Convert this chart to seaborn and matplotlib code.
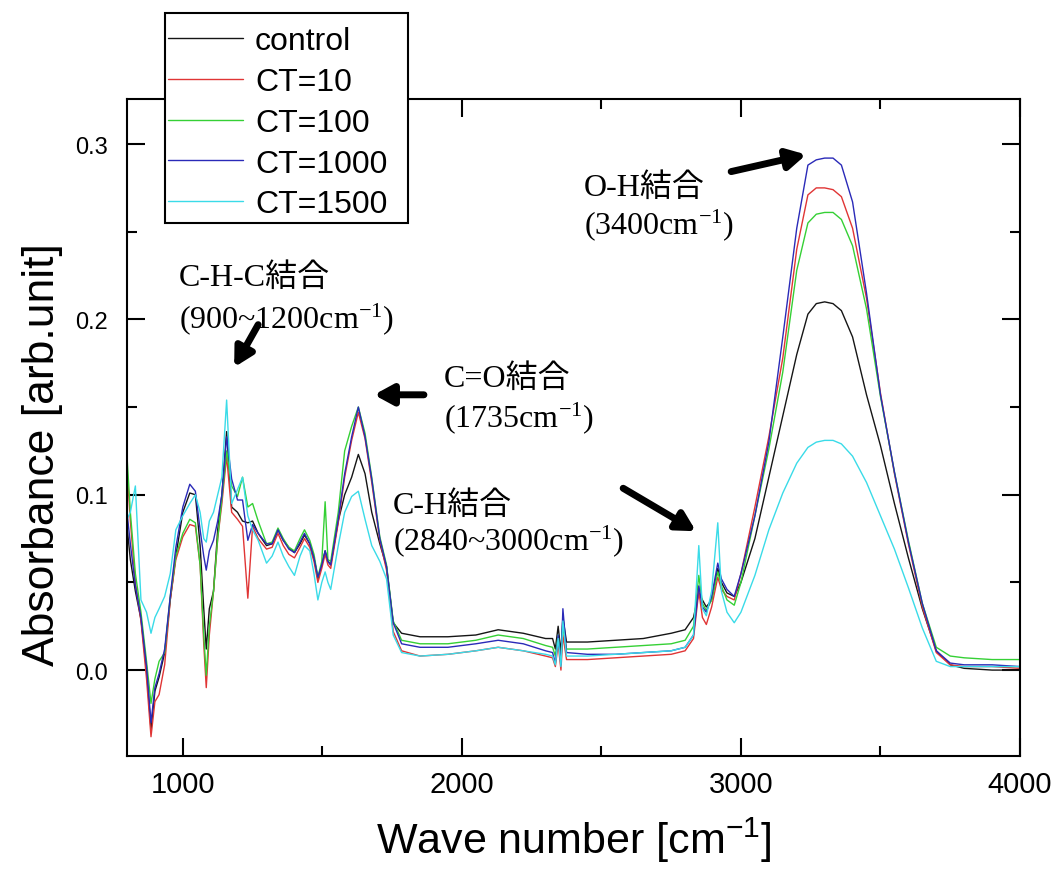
import matplotlib
matplotlib.use("Agg")
import numpy as np
import pandas as pd
import seaborn as sns
import matplotlib.pyplot as plt
from matplotlib import font_manager
from matplotlib.patches import Rectangle
from matplotlib.ticker import MultipleLocator, FixedLocator, FormatStrFormatter

# ---------------- data ----------------
wavenumber = [
    800, 812, 830, 850, 870, 886, 900, 915, 935, 955,
    975, 1000, 1025, 1045, 1062, 1075, 1084, 1095, 1110, 1125,
    1140, 1157, 1175, 1196, 1214, 1233, 1250, 1270, 1300, 1320,
    1341, 1360, 1380, 1400, 1420, 1436, 1455, 1470, 1484, 1498,
    1510, 1520, 1530, 1557, 1580, 1605, 1629, 1653, 1677, 1706,
    1730, 1754, 1784, 1850, 1950, 2050, 2130, 2220, 2300, 2325,
    2335, 2345, 2355, 2362, 2375, 2450, 2550, 2650, 2750, 2800,
    2830, 2849, 2862, 2876, 2895, 2917, 2930, 2950, 2976, 3000,
    3050, 3100, 3150, 3200, 3240, 3270, 3300, 3330, 3360, 3400,
    3450, 3500, 3550, 3600, 3650, 3700, 3750, 3800, 3900, 4000,
]

control = [
    0.082, 0.063, 0.045, 0.029, 0.000, -0.034, -0.012, -0.004, 0.010, 0.040,
    0.065, 0.090, 0.101, 0.100, 0.071, 0.035, 0.012, 0.035, 0.045, 0.080,
    0.100, 0.136, 0.093, 0.090, 0.085, 0.084, 0.085, 0.078, 0.071, 0.072,
    0.080, 0.074, 0.070, 0.067, 0.072, 0.077, 0.072, 0.064, 0.052, 0.060,
    0.068, 0.062, 0.060, 0.085, 0.100, 0.110, 0.123, 0.112, 0.090, 0.072,
    0.059, 0.027, 0.021, 0.019, 0.019, 0.020, 0.023, 0.021, 0.018, 0.018,
    0.012, 0.025, 0.010, 0.030, 0.016, 0.016, 0.017, 0.018, 0.021, 0.023,
    0.030, 0.044, 0.040, 0.036, 0.040, 0.058, 0.050, 0.044, 0.042, 0.050,
    0.075, 0.110, 0.145, 0.180, 0.203, 0.209, 0.210, 0.209, 0.205, 0.190,
    0.157, 0.128, 0.095, 0.064, 0.035, 0.011, 0.003, 0.001, 0.000, 0.000,
]

ct10 = [
    0.115, 0.085, 0.050, 0.028, -0.005, -0.038, -0.018, -0.014, 0.003, 0.040,
    0.063, 0.076, 0.083, 0.082, 0.060, 0.015, -0.010, 0.020, 0.045, 0.075,
    0.095, 0.122, 0.090, 0.086, 0.082, 0.041, 0.082, 0.075, 0.069, 0.070,
    0.078, 0.071, 0.066, 0.064, 0.070, 0.075, 0.070, 0.062, 0.050, 0.058,
    0.066, 0.060, 0.058, 0.084, 0.110, 0.131, 0.147, 0.132, 0.107, 0.074,
    0.057, 0.022, 0.011, 0.008, 0.009, 0.011, 0.013, 0.011, 0.008, 0.007,
    0.002, 0.015, 0.000, 0.020, 0.006, 0.006, 0.007, 0.008, 0.009, 0.011,
    0.018, 0.045, 0.030, 0.026, 0.036, 0.053, 0.046, 0.042, 0.040, 0.055,
    0.093, 0.133, 0.178, 0.240, 0.271, 0.275, 0.275, 0.274, 0.270, 0.252,
    0.212, 0.158, 0.112, 0.072, 0.036, 0.010, 0.003, 0.002, 0.002, 0.001,
]

ct100 = [
    0.122, 0.090, 0.055, 0.033, 0.005, -0.019, -0.005, 0.005, 0.010, 0.042,
    0.065, 0.078, 0.086, 0.084, 0.060, 0.020, -0.003, 0.025, 0.045, 0.075,
    0.098, 0.125, 0.105, 0.099, 0.110, 0.093, 0.095, 0.085, 0.072, 0.073,
    0.081, 0.075, 0.070, 0.068, 0.075, 0.080, 0.074, 0.066, 0.053, 0.062,
    0.096, 0.063, 0.062, 0.090, 0.125, 0.139, 0.150, 0.135, 0.110, 0.076,
    0.060, 0.028, 0.017, 0.015, 0.015, 0.017, 0.020, 0.018, 0.014, 0.013,
    0.008, 0.020, 0.006, 0.025, 0.012, 0.012, 0.013, 0.014, 0.015, 0.017,
    0.025, 0.054, 0.038, 0.034, 0.040, 0.056, 0.048, 0.040, 0.037, 0.050,
    0.088, 0.126, 0.170, 0.228, 0.255, 0.260, 0.261, 0.261, 0.257, 0.242,
    0.206, 0.156, 0.113, 0.074, 0.038, 0.013, 0.008, 0.007, 0.006, 0.006,
]

ct1000 = [
    0.090, 0.072, 0.048, 0.030, 0.002, -0.030, -0.010, -0.002, 0.012, 0.042,
    0.070, 0.093, 0.106, 0.102, 0.080, 0.065, 0.057, 0.068, 0.074, 0.085,
    0.100, 0.133, 0.109, 0.097, 0.097, 0.074, 0.083, 0.078, 0.072, 0.072,
    0.080, 0.074, 0.069, 0.067, 0.073, 0.078, 0.072, 0.064, 0.053, 0.060,
    0.068, 0.062, 0.060, 0.086, 0.112, 0.133, 0.150, 0.133, 0.109, 0.075,
    0.059, 0.027, 0.015, 0.013, 0.013, 0.015, 0.017, 0.015, 0.011, 0.010,
    0.004, 0.020, 0.003, 0.035, 0.010, 0.009, 0.009, 0.010, 0.011, 0.013,
    0.020, 0.048, 0.036, 0.033, 0.042, 0.061, 0.052, 0.046, 0.042, 0.055,
    0.088, 0.130, 0.190, 0.252, 0.288, 0.291, 0.292, 0.292, 0.288, 0.267,
    0.215, 0.157, 0.113, 0.073, 0.038, 0.011, 0.004, 0.003, 0.003, 0.002,
]

ct1500 = [
    0.086, 0.090, 0.105, 0.040, 0.033, 0.021, 0.030, 0.035, 0.042, 0.055,
    0.080, 0.088, 0.095, 0.100, 0.090, 0.075, 0.073, 0.085, 0.090, 0.100,
    0.110, 0.154, 0.095, 0.103, 0.110, 0.088, 0.080, 0.074, 0.061, 0.065,
    0.073, 0.065, 0.059, 0.054, 0.065, 0.071, 0.068, 0.055, 0.040, 0.050,
    0.056, 0.050, 0.046, 0.071, 0.090, 0.099, 0.102, 0.086, 0.071, 0.062,
    0.052, 0.020, 0.010, 0.008, 0.009, 0.011, 0.013, 0.011, 0.009, 0.008,
    0.003, 0.018, 0.002, 0.028, 0.008, 0.008, 0.009, 0.010, 0.011, 0.013,
    0.020, 0.071, 0.035, 0.031, 0.045, 0.084, 0.045, 0.033, 0.027, 0.033,
    0.054, 0.080, 0.101, 0.118, 0.127, 0.130, 0.131, 0.131, 0.129, 0.122,
    0.107, 0.088, 0.069, 0.047, 0.024, 0.005, 0.002, 0.002, 0.002, 0.002,
]

samples = ["control", "CT=10", "CT=100", "CT=1000", "CT=1500"]
series = [control, ct10, ct100, ct1000, ct1500]
colors = ["#151515", "#e03535", "#35d035", "#2a2ab8", "#3adbe8"]

xticks = [1000, 2000, 3000, 4000]
yticks = [0.0, 0.1, 0.2, 0.3]

annotations = [
    # (line1, line2, text_x, line1_y, line2_y, arrow_tail, arrow_tip)
    ("C-H-C結合", "(900~1200cm$\\mathregular{^{-1}}$)", 986, 0.2199, 0.1954, (1270, 0.197), (1184, 0.1727)),
    ("C=O結合", "(1735cm$\\mathregular{^{-1}}$)", 1936, 0.1620, 0.1392, (1864, 0.157), (1685, 0.157)),
    ("C-H結合", "(2840~3000cm$\\mathregular{^{-1}}$)", 1753, 0.0898, 0.0689, (2578, 0.1037), (2839, 0.0792)),
    ("O-H結合", "(3400cm$\\mathregular{^{-1}}$)", 2438, 0.2712, 0.2494, (2965, 0.2843), (3234, 0.294)),
]

# ---------------- build table ----------------
df = pd.concat(
    [pd.DataFrame({"wavenumber": wavenumber, "absorbance": s, "sample": n})
     for n, s in zip(samples, series)],
    ignore_index=True,
)

# ---------------- style ----------------
sns.set_style("ticks")
plt.rcParams["font.family"] = ["Liberation Sans", "DejaVu Sans"]
for k in ["text.color", "axes.labelcolor", "xtick.color", "ytick.color", "axes.edgecolor"]:
    plt.rcParams[k] = "black"
names = {f.name for f in font_manager.fontManager.ttflist}
has_narrow = "Liberation Sans Narrow" in names
narrow_family = ["Liberation Sans Narrow", "Liberation Sans"] if has_narrow else ["Liberation Sans"]
xtick_size = 24 if has_narrow else 21
xlabel_size = 37 if has_narrow else 31

fig = plt.figure(figsize=(10.54, 8.70), dpi=100)
ax = fig.add_axes([127 / 1054, 1 - 757 / 870, (1020 - 127) / 1054, (757 - 100) / 870])

sns.lineplot(
    data=df, x="wavenumber", y="absorbance", hue="sample",
    hue_order=samples, palette=dict(zip(samples, colors)),
    estimator=None, sort=False, linewidth=1.0, ax=ax,
)

ax.set_xlim(800, 4000)
ax.set_ylim(-0.049, 0.3257)
ax.xaxis.set_major_locator(FixedLocator(xticks))
ax.xaxis.set_minor_locator(MultipleLocator(500))
ax.yaxis.set_major_locator(FixedLocator(yticks))
ax.yaxis.set_minor_locator(MultipleLocator(0.05))
ax.yaxis.set_major_formatter(FormatStrFormatter("%.1f"))

ax.tick_params(which="both", direction="in", top=True, right=True, width=1.5, colors="black")
ax.tick_params(which="major", length=13)
ax.tick_params(which="minor", length=7)
ax.tick_params(axis="y", labelsize=17, pad=14)
ax.tick_params(axis="x", pad=10)
for lab in ax.get_xticklabels():
    lab.set_family(narrow_family)
    lab.set_fontsize(xtick_size)
for sp in ax.spines.values():
    sp.set_linewidth(1.5)
    sp.set_color("black")

ax.set_xlabel("Wave number [cm$\\mathregular{^{-1}}$]", family=narrow_family,
              fontsize=xlabel_size, labelpad=12)
ax.set_ylabel("Absorbance [arb.unit]", fontsize=32)
ax.yaxis.set_label_coords(-0.072, 0.46)

# annotations
ann_family = ["Liberation Serif", "Noto Sans CJK JP"]
for l1, l2, tx, y1, y2, tail, tip in annotations:
    ax.text(tx, y1, l1, family=ann_family, fontsize=23, va="baseline", ha="left", color="black")
    ax.text(tx, y2, l2, family=["Liberation Serif"], fontsize=23, va="baseline", ha="left", color="black")
    ax.annotate("", xy=tip, xytext=tail,
                arrowprops=dict(arrowstyle="-|>,head_length=0.55,head_width=0.3",
                                lw=5, color="black", shrinkA=0, shrinkB=0,
                                mutation_scale=20))

# legend: frame drawn as a separate box, entries placed inside it
handles, labels = ax.get_legend_handles_labels()
if ax.get_legend() is not None:
    ax.get_legend().remove()
frame = Rectangle((165 / 1054, 1 - 224 / 870), 243 / 1054, 210 / 870,
                  transform=fig.transFigure, facecolor="white", edgecolor="black",
                  linewidth=1.5, zorder=4)
fig.add_artist(frame)
leg = fig.legend(
    handles, labels, loc="upper left",
    bbox_to_anchor=(168 / 1054, 1 - 27 / 870), bbox_transform=fig.transFigure,
    frameon=False, fontsize=23, handlelength=2.35, handletextpad=0.37,
    labelspacing=0.34, borderpad=0, borderaxespad=0,
)
leg.set_zorder(5)
for h in leg.get_lines():
    h.set_linewidth(1.0)
for t in leg.get_texts():
    t.set_color("black")

fig.savefig("out.png", dpi=100)
